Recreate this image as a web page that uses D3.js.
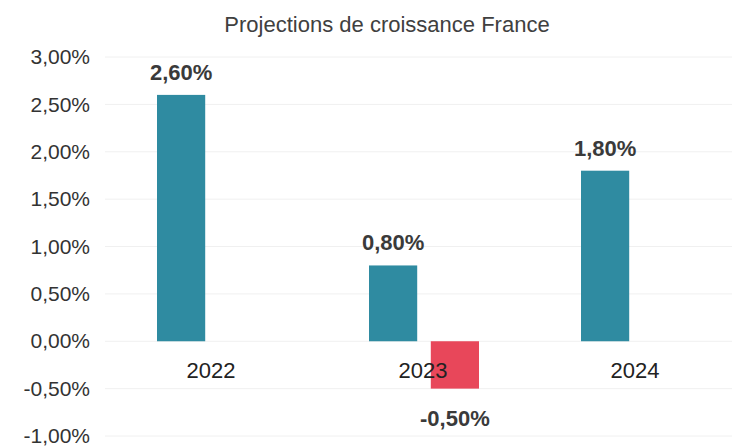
<!DOCTYPE html>
<html>
<head>
<meta charset="utf-8">
<script src="https://cdn.jsdelivr.net/npm/d3@7"></script>
<style>
  body { margin: 0; background: #fff; }
  svg { font-family: "Liberation Sans", Arial, sans-serif; }
</style>
</head>
<body>
<svg id="chart" width="732" height="446"></svg>
<script>
// data
var years = ["2022", "2023", "2024"];
var hausse = [2.6, 0.8, 1.8];
var baisse = [null, -0.5, null];
var yTicks = [-1, -0.5, 0, 0.5, 1, 1.5, 2, 2.5, 3];
var title = "Projections de croissance France";

var svg = d3.select("#chart");
var fr = d3.formatLocale({decimal: ",", thousands: " ", grouping: [3], currency: ["", " €"], minus: "-"});
var pct = function(v) { return fr.format(".2f")(v) + "%"; };

var x = d3.scaleBand().domain(years).range([105, 741]);
var x1 = d3.scaleBand().domain(["hausse", "baisse"]).range([52, 162]).paddingInner(0.22);
var y = d3.scaleLinear().domain([-1, 3]).range([436, 57]);

var rows = years.map(function(d, i) {
  return {year: d, hausse: hausse[i], baisse: baisse[i]};
});

// faint gridlines
svg.append("g")
  .selectAll("line")
  .data(yTicks)
  .enter().append("line")
    .attr("x1", 105).attr("x2", 732)
    .attr("y1", function(d) { return y(d); })
    .attr("y2", function(d) { return y(d); })
    .attr("stroke", "#f0f0f0")
    .attr("stroke-width", 1);

// y axis labels
var yAxis = svg.append("g")
  .attr("transform", "translate(96,0)")
  .call(d3.axisLeft(y).tickValues(yTicks).tickFormat(pct).tickSize(0).tickPadding(6));
yAxis.select(".domain").remove();
yAxis.selectAll("text")
  .attr("font-size", 21)
  .attr("font-family", "Liberation Sans, Arial, sans-serif")
  .attr("fill", "#333");

var colors = {hausse: "#2f8ba1", baisse: "#e8475a"};

var keys = ["hausse", "baisse"];
var g = svg.append("g");
keys.forEach(function(k) {
  var pts = rows.filter(function(r) { return r[k] != null; });
  g.selectAll(".bar-" + k)
    .data(pts)
    .enter().append("rect")
      .attr("class", "bar-" + k)
      .attr("x", function(d) { return x(d.year) + x1(k); })
      .attr("width", x1.bandwidth())
      .attr("y", function(d) { return y(Math.max(0, d[k])); })
      .attr("height", function(d) { return Math.abs(y(d[k]) - y(0)); })
      .attr("fill", colors[k]);
});

// x axis labels just under the zero line
svg.append("g")
  .selectAll("text")
  .data(years)
  .enter().append("text")
    .attr("x", function(d) { return x(d) + x.bandwidth() / 2; })
    .attr("y", y(0) + 37)
    .attr("text-anchor", "middle")
    .attr("font-size", 22)
    .attr("fill", "#222")
    .text(function(d) { return d; });

// value labels
keys.forEach(function(k) {
  var pts = rows.filter(function(r) { return r[k] != null; });
  svg.selectAll(".lab-" + k)
    .data(pts)
    .enter().append("text")
      .attr("class", "lab-" + k)
      .attr("x", function(d) { return x(d.year) + x1(k) + x1.bandwidth() / 2; })
      .attr("y", function(d) { return d[k] >= 0 ? y(d[k]) - 15 : y(d[k]) + 37; })
      .attr("text-anchor", "middle")
      .attr("font-size", 22)
      .attr("font-weight", "bold")
      .attr("fill", "#3a3a3a")
      .text(function(d) { return pct(d[k]); });
});

svg.append("text")
  .attr("x", 387)
  .attr("y", 32)
  .attr("text-anchor", "middle")
  .attr("font-size", 22)
  .attr("fill", "#404040")
  .text(title);
</script>
</body>
</html>
